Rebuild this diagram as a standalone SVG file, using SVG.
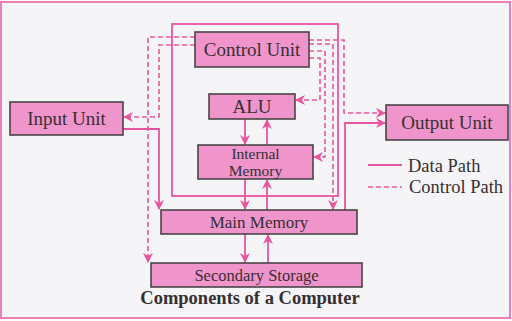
<svg xmlns="http://www.w3.org/2000/svg" width="512" height="321" viewBox="0 0 512 321">
<defs>
<style>
.box{fill:#f094cc;stroke:#4a4446;stroke-width:1.6}
.t{font-family:"Liberation Serif","Times New Roman",serif;fill:#363032;text-anchor:middle}
.s{text-anchor:start}
.d{fill:none;stroke:#e8559f;stroke-width:1.8}
.c{fill:none;stroke:#e8559f;stroke-width:1.6;stroke-dasharray:5 3}
</style>
<marker id="ah" viewBox="0 0 10 10" refX="9" refY="5" markerWidth="10" markerHeight="10" markerUnits="userSpaceOnUse" orient="auto">
<path d="M0,0 L10,5 L0,10 L3,5 z" fill="#e8559f"/>
</marker>
</defs>
<rect x="1" y="2" width="509" height="316" fill="#f5f4f7" stroke="#ec7fbb" stroke-width="2"/>
<g id="connectors">
<rect x="172" y="24" width="166" height="172" class="d"/>
<path class="d" d="M123,129 H159 V209" marker-end="url(#ah)"/>
<path class="d" d="M245,119 V144" marker-end="url(#ah)"/>
<path class="d" d="M267,145 V120" marker-end="url(#ah)"/>
<path class="d" d="M245,179 V209" marker-end="url(#ah)"/>
<path class="d" d="M267,210 V180" marker-end="url(#ah)"/>
<path class="d" d="M245,234 V262" marker-end="url(#ah)"/>
<path class="d" d="M268,263 V235" marker-end="url(#ah)"/>
<path class="d" d="M345,210 V123 H385" marker-end="url(#ah)"/>
<path class="c" d="M195,37 H148 V262" marker-end="url(#ah)"/>
<path class="c" d="M195,45 H159 V117 H124" marker-end="url(#ah)"/>
<path class="c" d="M309,40 H344 V113 H385" marker-end="url(#ah)"/>
<path class="c" d="M309,44 H333 V209" marker-end="url(#ah)"/>
<path class="c" d="M309,51 H325 V157 H314" marker-end="url(#ah)"/>
<path class="c" d="M309,58 H320 V100 H296" marker-end="url(#ah)"/>
</g>
<g id="control-unit"><rect class="box" x="195" y="32" width="114" height="35"/><text class="t" x="252" y="56" font-size="19">Control Unit</text></g>
<g id="input-unit"><rect class="box" x="10" y="102" width="113" height="33"/><text class="t" x="66.5" y="125" font-size="19">Input Unit</text></g>
<g id="alu"><rect class="box" x="209" y="94" width="86" height="25"/><text class="t" x="252" y="113" font-size="19">ALU</text></g>
<g id="internal-memory"><rect class="box" x="198" y="145" width="115" height="34"/><text class="t" x="255.5" y="159" font-size="15.5">Internal</text><text class="t" x="255.5" y="175.5" font-size="15.5">Memory</text></g>
<g id="main-memory"><rect class="box" x="161" y="210" width="196" height="24"/><text class="t" x="259" y="228" font-size="17">Main Memory</text></g>
<g id="secondary-storage"><rect class="box" x="151" y="263" width="211" height="24"/><text class="t" x="256.5" y="281" font-size="16.5">Secondary Storage</text></g>
<g id="output-unit"><rect class="box" x="386" y="105" width="122" height="35"/><text class="t" x="447" y="129" font-size="19">Output Unit</text></g>
<g id="legend">
<path class="d" d="M368,165 H402"/>
<path class="c" d="M368,187 H402"/>
<text class="t s" x="408" y="172" font-size="18.5">Data Path</text>
<text class="t s" x="409" y="193" font-size="18.5">Control Path</text>
</g>
<text class="t" x="250" y="304" font-size="18.5" font-weight="bold">Components of a Computer</text>
</svg>
